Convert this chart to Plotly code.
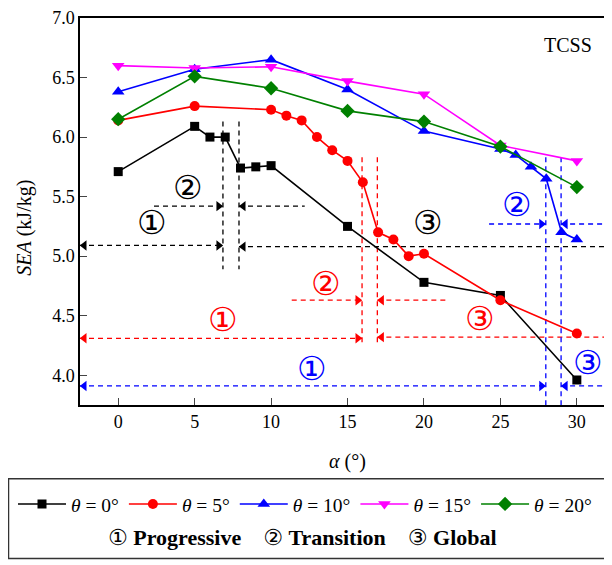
import plotly.graph_objects as go

# ---------------- data ----------------
alpha_0 = [0, 5, 6, 7, 8, 9, 10, 15, 20, 25, 30]
sea_0 = [5.71, 6.09, 6.00, 6.00, 5.74, 5.75, 5.76, 5.25, 4.78, 4.67, 3.96]

alpha_5 = [0, 5, 10, 11, 12, 13, 14, 15, 16, 17, 18, 19, 20, 25, 30]
sea_5 = [6.14, 6.26, 6.23, 6.18, 6.14, 6.00, 5.89, 5.80, 5.62, 5.20, 5.14, 5.00, 5.02, 4.63, 4.35]

alpha_10 = [0, 5, 10, 15, 20, 25, 26, 27, 28, 29, 30]
sea_10 = [6.38, 6.57, 6.65, 6.40, 6.05, 5.90, 5.85, 5.75, 5.65, 5.20, 5.14]

alpha_15 = [0, 5, 10, 15, 20, 25, 30]
sea_15 = [6.60, 6.58, 6.59, 6.47, 6.36, 5.93, 5.80]

alpha_20 = [0, 5, 10, 15, 20, 25, 30]
sea_20 = [6.15, 6.51, 6.41, 6.22, 6.13, 5.92, 5.58]

series_names = ["<i>θ</i> = 0°", "<i>θ</i> = 5°", "<i>θ</i> = 10°", "<i>θ</i> = 15°", "<i>θ</i> = 20°"]

# stage boundaries (vertical dashed lines): x, y_top, y_bottom
bounds_0 = [(6.85, 6.13, 4.89), (7.9, 6.13, 4.89)]
bounds_5 = [(15.95, 5.83, 4.27), (16.95, 5.83, 4.27)]
bounds_10 = [(27.97, 5.83, 3.75), (28.97, 5.83, 3.75)]

# horizontal dashed arrows: x_start, x_end, y, heads ("L", "R", "LR")
arrows_0 = [(2.34, 6.85, 5.42, "R"), (7.9, 12.2, 5.42, "L"),
            (-2.5, 6.85, 5.09, "LR"), (7.9, 32.3, 5.08, "LR")]
arrows_5 = [(11.35, 15.95, 4.63, "R"), (16.95, 21.5, 4.63, "L"),
            (-2.5, 15.95, 4.31, "LR"), (16.95, 32.3, 4.32, "LR")]
arrows_10 = [(24.26, 27.97, 5.27, "R"), (28.97, 32.3, 5.27, "L"),
             (-2.5, 27.97, 3.91, "LR"), (28.97, 32.3, 3.91, "LR")]

# stage labels: text, x, y
labels_0 = [("①", 2.19, 5.28), ("②", 4.58, 5.58), ("③", 20.25, 5.28)]
labels_5 = [("①", 6.83, 4.47), ("②", 13.6, 4.77), ("③", 23.67, 4.48)]
labels_10 = [("①", 12.7, 4.06), ("②", 26.07, 5.43), ("③", 30.76, 4.11)]

stage_names = ["Progressive", "Transition", "Global"]
stage_marks = ["①", "②", "③"]

x_ticks = [0, 5, 10, 15, 20, 25, 30]
y_ticks = [4.0, 4.5, 5.0, 5.5, 6.0, 6.5, 7.0]
x_range = [-2.5, 32.3]
y_range = [3.75, 7.0]

# ---------------- figure ----------------
SERIF = "Liberation Serif"
CIRC = "DejaVu Sans"
OFF = 8                      # page body margin
FW, FH = 612 - OFF, 565 - OFF
L, T, W, H = 80, 12, 532, 393  # plot area in window pixels


def px(xw):
    return (xw - L) / W


def py(yw):
    return (T + H - yw) / H


fig = go.Figure()

head_off = 0.28
for bounds, arrows, color in [(bounds_0, arrows_0, "black"),
                              (bounds_5, arrows_5, "red"),
                              (bounds_10, arrows_10, "blue")]:
    for bx, yt, yb in bounds:
        fig.add_trace(go.Scatter(x=[bx, bx], y=[yt, yb], mode="lines",
                                 line=dict(color=color, width=1.3, dash="5px,4px"),
                                 showlegend=False, hoverinfo="skip", cliponaxis=False))
    for xs, xe, yy, heads in arrows:
        fig.add_trace(go.Scatter(x=[xs, xe], y=[yy, yy], mode="lines",
                                 line=dict(color=color, width=1.3, dash="5px,4px"),
                                 showlegend=False, hoverinfo="skip", cliponaxis=False))
        hx, hy, hs = [], [], []
        if "L" in heads:
            hx.append(xs + head_off); hy.append(yy); hs.append("triangle-left")
        if "R" in heads:
            hx.append(xe - head_off); hy.append(yy); hs.append("triangle-right")
        fig.add_trace(go.Scatter(x=hx, y=hy, mode="markers",
                                 marker=dict(symbol=hs, size=9, color=color, line=dict(width=0)),
                                 showlegend=False, hoverinfo="skip", cliponaxis=False))

series = [
    (alpha_0, sea_0, "black", "square", 9),
    (alpha_5, sea_5, "red", "circle", 10),
    (alpha_10, sea_10, "blue", "triangle-up", 11),
    (alpha_15, sea_15, "#FF00FF", "triangle-down", 11),
    (alpha_20, sea_20, "green", "diamond", 11),
]
for (xs, ys, color, sym, sz), name in zip(series, series_names):
    fig.add_trace(go.Scatter(x=xs, y=ys, mode="lines+markers", name=name,
                             line=dict(color=color, width=1.6),
                             marker=dict(symbol=sym, size=sz, color=color, line=dict(width=0)),
                             cliponaxis=False))

for labels, color in [(labels_0, "black"), (labels_5, "red"), (labels_10, "blue")]:
    for t, lx, ly in labels:
        fig.add_annotation(x=lx, y=ly, xref="x", yref="y", text=t, showarrow=False,
                           font=dict(family=CIRC, size=33, color=color))

fig.add_annotation(x=29.45, y=6.77, xref="x", yref="y", text="TCSS", showarrow=False,
                   font=dict(family=SERIF, size=20, color="black"))

# y title
fig.add_annotation(x=px(25), y=py(225), xref="paper", yref="paper",
                   xanchor="center", yanchor="middle",
                   text="<i>SEA</i> (kJ/kg)", textangle=-90, showarrow=False,
                   font=dict(family=SERIF, size=20, color="black"))
# x title
fig.add_annotation(x=px(347), y=py(462), xref="paper", yref="paper",
                   xanchor="center", yanchor="middle",
                   text="<i>α</i> (°)", showarrow=False,
                   font=dict(family=SERIF, size=20, color="black"))

# legend frame
fig.add_shape(type="rect", xref="paper", yref="paper",
              x0=px(8.5), x1=px(607), y0=py(480), y1=py(561),
              line=dict(color="#333333", width=1.5), fillcolor="rgba(0,0,0,0)")

# second legend row
sep = "&nbsp;&nbsp;&nbsp;&nbsp;"
row2 = sep.join(
    f"<span style='font-family:DejaVu Sans;font-weight:normal'>{m}</span> <b>{n}</b>"
    for m, n in zip(stage_marks, stage_names))
fig.add_annotation(x=px(302), y=py(540), xref="paper", yref="paper",
                   xanchor="center", yanchor="middle",
                   text=row2, showarrow=False,
                   font=dict(family=SERIF, size=22, color="black"))

fig.update_layout(
    width=FW, height=FH,
    margin=dict(l=L - OFF, r=0, t=T - OFF, b=FH - (T + H - OFF)),
    plot_bgcolor="white", paper_bgcolor="white",
    font=dict(family=SERIF, size=18, color="black"),
    legend=dict(orientation="h", xref="paper", yref="paper",
                x=px(13), xanchor="left", y=py(486), yanchor="top",
                font=dict(family=SERIF, size=19.5, color="black"),
                bgcolor="rgba(0,0,0,0)", itemwidth=48, tracegroupgap=0),
    xaxis=dict(range=x_range, tickvals=x_ticks, ticks="inside", ticklen=7,
               showline=True, linecolor="black", linewidth=1.5, mirror=True,
               showgrid=False, zeroline=False, ticklabeloverflow="allow",
               tickfont=dict(family=SERIF, size=18)),
    yaxis=dict(range=y_range, tickvals=y_ticks, tickformat=".1f", ticks="inside", ticklen=7,
               showline=True, linecolor="black", linewidth=1.5,
               showgrid=False, zeroline=False, ticklabeloverflow="allow",
               tickfont=dict(family=SERIF, size=18)),
)

fig.write_html("out.html")
